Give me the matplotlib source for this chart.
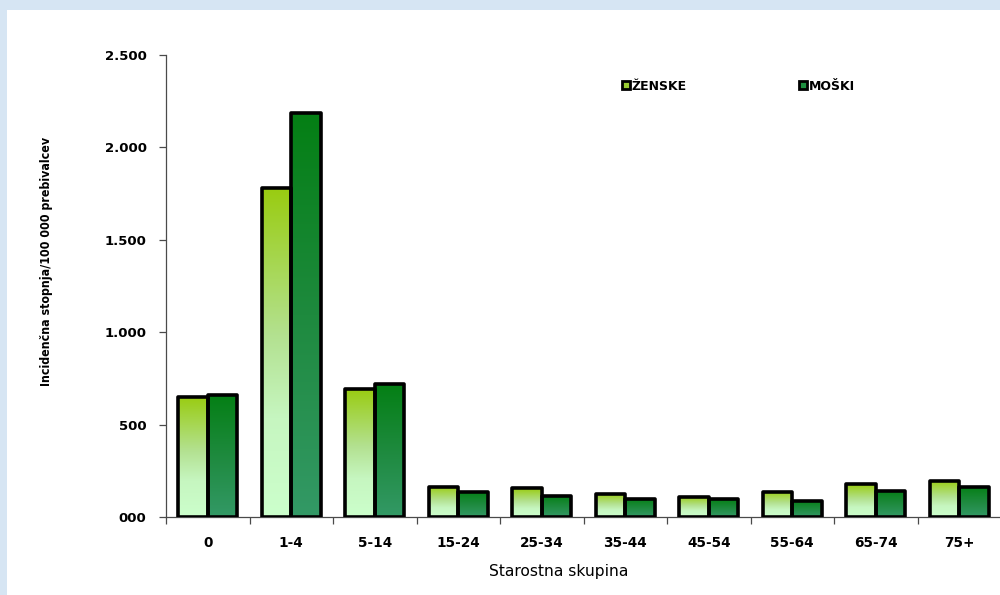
import numpy as np
import matplotlib
matplotlib.use("Agg")
import matplotlib.pyplot as plt
from matplotlib.colors import LinearSegmentedColormap
from matplotlib.patches import Rectangle, Patch

# Incidence per 100 000 inhabitants by age group
age_groups = ["0", "1-4", "5-14", "15-24", "25-34", "35-44", "45-54", "55-64", "65-74", "75+"]
zenske = [652, 1783, 694, 165, 156, 126, 111, 138, 177, 196]
moski = [661, 2184, 719, 138, 116, 98, 96, 88, 142, 165]
series_labels = ["ŽENSKE", "MOŠKI"]
y_ticks = [0, 500, 1000, 1500, 2000, 2500]
y_tick_labels = ["000", "500", "1.000", "1.500", "2.000", "2.500"]

fig = plt.figure(figsize=(10, 5.95), dpi=100)
fig.patch.set_facecolor("#d6e5f3")
# white panel over the slide background
fig.patches.append(Rectangle((7 / 1000, 0), 1.0, 1 - 10 / 595, transform=fig.transFigure,
                             facecolor="white", edgecolor="none", zorder=-5))

ax = fig.add_axes([0.166, 0.131, 0.835, 0.7765])
ax.set_facecolor("none")

fem_cmap = LinearSegmentedColormap.from_list(
    "fem", [(0.0, "#CCFFCC"), (0.3, "#C6F6C0"), (0.55, "#B3E190"), (1.0, "#99CC10")])
mal_cmap = LinearSegmentedColormap.from_list(
    "mal", [(0.0, "#339966"), (0.5, "#1E8A3E"), (1.0, "#047F14")])
grad = np.linspace(0, 1, 256).reshape(-1, 1)

x = np.arange(len(age_groups))
w = 0.355


def gradient_bars(xpos, values, cmap):
    bars = ax.bar(xpos, values, width=w, facecolor="none", edgecolor="black",
                  linewidth=2.6, joinstyle="round", zorder=3)
    for b in bars:
        x0, y0 = b.get_x(), b.get_y()
        im = ax.imshow(grad, extent=[x0, x0 + b.get_width(), y0, y0 + b.get_height()],
                       origin="lower", cmap=cmap, aspect="auto", zorder=2,
                       interpolation="bilinear")
        im.set_clip_path(b)
    return bars


gradient_bars(x - w / 2, zenske, fem_cmap)
gradient_bars(x + w / 2, moski, mal_cmap)

ax.set_xlim(-0.5, len(age_groups) - 0.5)
ax.set_ylim(0, 2500)

for s in ("top", "right"):
    ax.spines[s].set_visible(False)
for s in ("left", "bottom"):
    ax.spines[s].set_color("#4a4a4a")
    ax.spines[s].set_linewidth(0.9)

ax.set_yticks(y_ticks)
ax.set_yticklabels(y_tick_labels)
ax.tick_params(axis="y", length=5, width=0.9, color="#4a4a4a", pad=9,
               labelsize=9.5, direction="out")
ax.set_xticks(x)
ax.set_xticklabels(age_groups)
ax.set_xticks(np.arange(-0.5, len(age_groups), 1), minor=True)
ax.tick_params(axis="x", which="major", length=0, pad=14, labelsize=9.8)
ax.tick_params(axis="x", which="minor", length=5, width=0.9, color="#4a4a4a", direction="out")
for lbl in ax.get_xticklabels() + ax.get_yticklabels():
    lbl.set_fontweight("bold")

fig.text(0.047, 0.56, "Incidenčna stopnja/100 000 prebivalcev", rotation=90,
         ha="center", va="center", fontsize=8.9, fontweight="bold",
         fontstretch="condensed", family=["DejaVu Sans"])
fig.text(0.559, 0.040, "Starostna skupina", ha="center", va="center", fontsize=11.2)

handles = [Patch(facecolor="#9ACD32", edgecolor="black", linewidth=2.0),
           Patch(facecolor="#1E9040", edgecolor="black", linewidth=2.0)]
fig.legend(handles, series_labels, loc="center left", bbox_to_anchor=(0.616, 1 - 86 / 595),
           ncol=2, frameon=False, borderpad=0, handlelength=0.6, handleheight=0.6,
           handletextpad=0.15, columnspacing=9.0, prop={"size": 9, "weight": "bold"})

fig.savefig("out.png", dpi=100)
